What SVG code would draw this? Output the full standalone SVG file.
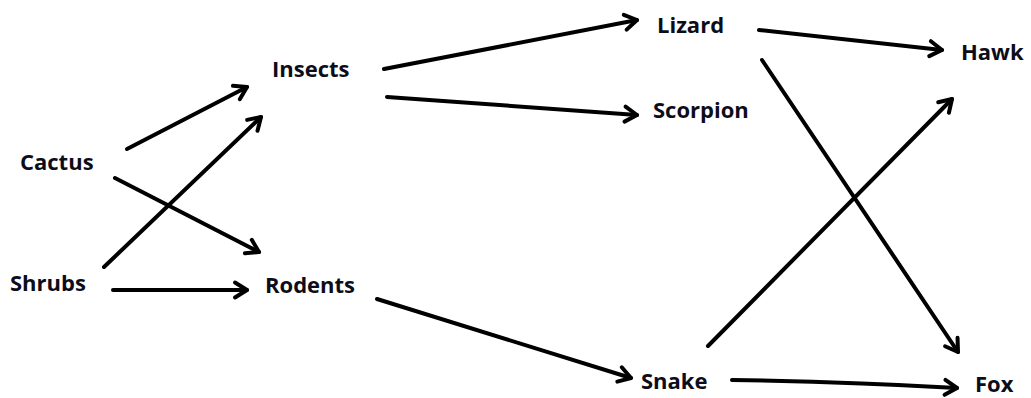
<svg xmlns="http://www.w3.org/2000/svg" width="1031" height="398" viewBox="0 0 1031 398">
<style>
.lbl{font-family:"Open Sans","Liberation Sans",sans-serif;font-weight:bold;font-size:22px;fill:#0d0d1a}
.edge{stroke:#000;stroke-width:4;fill:none;stroke-linecap:round;marker-end:url(#arr)}
</style>
<defs>
<marker id="arr" markerUnits="userSpaceOnUse" markerWidth="22" markerHeight="22" viewBox="0 0 22 22" refX="16" refY="11" orient="auto">
<path d="M4,3.5 L16,11 L4,18.5" fill="none" stroke="#000" stroke-width="4" stroke-linecap="round" stroke-linejoin="round"/>
</marker>
</defs>
<rect width="1031" height="398" fill="#fff"/>
<g id="connectors">
<line class="edge" x1="127" y1="149" x2="247" y2="87"/>
<line class="edge" x1="104" y1="267" x2="261" y2="117"/>
<line class="edge" x1="115" y1="178" x2="259" y2="252"/>
<line class="edge" x1="113" y1="290" x2="247" y2="290"/>
<line class="edge" x1="384" y1="69" x2="637" y2="20"/>
<line class="edge" x1="387" y1="97" x2="637" y2="115"/>
<line class="edge" x1="377" y1="299" x2="631" y2="378"/>
<line class="edge" x1="759" y1="30" x2="942" y2="50"/>
<line class="edge" x1="762" y1="60" x2="958" y2="352"/>
<line class="edge" x1="708" y1="346" x2="952" y2="99"/>
<path class="edge" d="M732,380 Q850,382 957,388"/>
</g>
<g id="node-cactus"><text class="lbl" x="20" y="170">Cactus</text></g>
<g id="node-shrubs"><text class="lbl" x="10" y="291">Shrubs</text></g>
<g id="node-insects"><text class="lbl" x="272" y="77">Insects</text></g>
<g id="node-rodents"><text class="lbl" x="265" y="293">Rodents</text></g>
<g id="node-lizard"><text class="lbl" x="657" y="33">Lizard</text></g>
<g id="node-scorpion"><text class="lbl" x="653" y="118">Scorpion</text></g>
<g id="node-snake"><text class="lbl" x="641" y="389">Snake</text></g>
<g id="node-hawk"><text class="lbl" x="961" y="60">Hawk</text></g>
<g id="node-fox"><text class="lbl" x="975" y="392">Fox</text></g>
</svg>
